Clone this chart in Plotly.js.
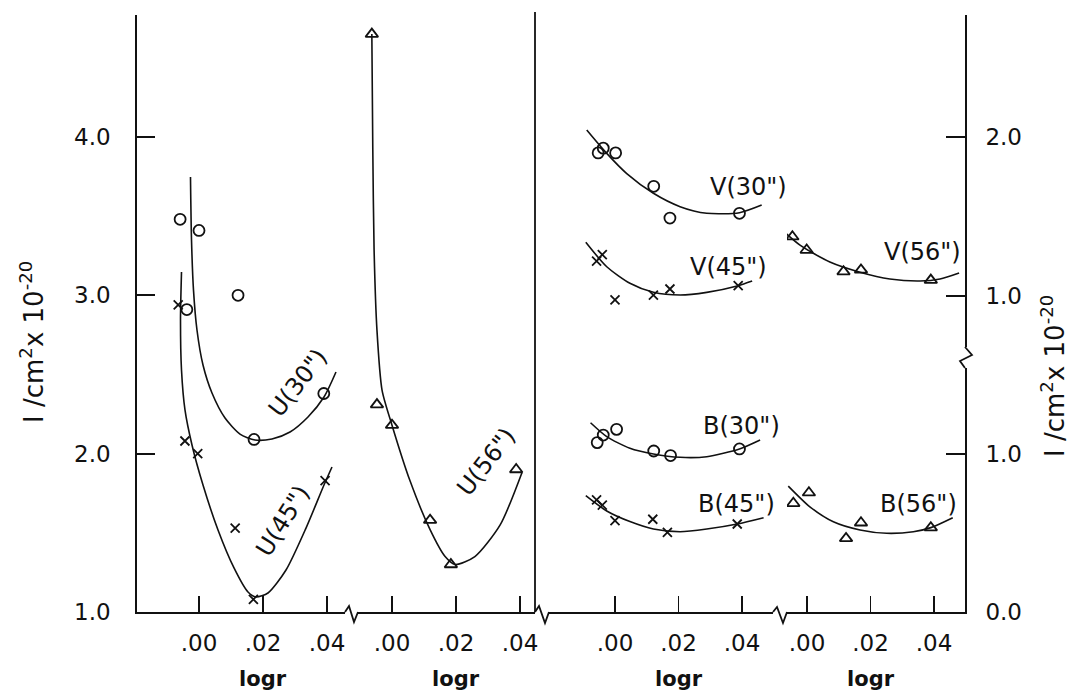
<!DOCTYPE html>
<html><head><meta charset="utf-8">
<script src="https://cdn.plot.ly/plotly-3.0.1.min.js"></script>
<style>html,body{margin:0;padding:0;background:#fff}#chart{width:1073px;height:691px}</style>
</head><body><div id="chart"></div>
<script>
// ---------- tick labels ----------
const xTickVals = [0, 0.02, 0.04];
const xTickText = ['.00', '.02', '.04'];
const uTickVals = [1, 2, 3, 4];
const uTickText = ['1.0', '2.0', '3.0', '4.0'];
const vTickVals = [1, 2];
const vTickText = ['1.0', '2.0'];
const bTickVals = [0, 1];
const bTickText = ['0.0', '1.0'];

// ---------- U panel (left scale) ----------
const u30X = [-0.0059, 0.0000, -0.0038, 0.0122, 0.0172, 0.0390];
const u30Y = [3.48, 3.41, 2.91, 3.00, 2.09, 2.38];
const u30CurveX = [-0.00266, -0.00234, -0.00172, -0.00063, 0.00125, 0.00406, 0.00813, 0.01281, 0.01750, 0.02281, 0.02844, 0.03406, 0.03906, 0.04281];
const u30CurveY = [3.747, 3.349, 3.033, 2.781, 2.560, 2.383, 2.225, 2.124, 2.086, 2.093, 2.137, 2.232, 2.358, 2.516];

const u45X = [-0.0065, -0.0044, -0.0004, 0.0113, 0.0170, 0.0394];
const u45Y = [2.94, 2.08, 2.00, 1.53, 1.08, 1.83];
const u45CurveX = [-0.00547, -0.00578, -0.00547, -0.00438, -0.00219, 0.00125, 0.00594, 0.01094, 0.01531, 0.01781, 0.02156, 0.02719, 0.03344, 0.03906, 0.04156];
const u45CurveY = [3.147, 2.844, 2.528, 2.276, 2.055, 1.802, 1.518, 1.278, 1.126, 1.095, 1.120, 1.265, 1.530, 1.802, 1.916];

const u56X = [-0.0063, -0.0047, 0.0000, 0.0119, 0.0184, 0.0388];
const u56Y = [4.65, 2.31, 2.18, 1.58, 1.30, 1.90];
const u56CurveX = [-0.0063, -0.0060, -0.0056, -0.0047, -0.0031, 0.0000, 0.0056, 0.0119, 0.0166, 0.0197, 0.0259, 0.0338, 0.0406];
const u56CurveY = [4.65, 3.92, 3.29, 2.78, 2.40, 2.18, 1.83, 1.52, 1.35, 1.30, 1.35, 1.55, 1.88];

// ---------- V panel (right upper scale) ----------
const v30X = [-0.0053, -0.0037, 0.0002, 0.0122, 0.0173, 0.0392];
const v30Y = [1.90, 1.93, 1.90, 1.69, 1.49, 1.52];
const v30CurveX = [-0.0089, -0.0026, 0.0037, 0.0121, 0.0205, 0.0289, 0.0392, 0.0462];
const v30CurveY = [2.044, 1.897, 1.770, 1.646, 1.562, 1.520, 1.524, 1.572];

const v45X = [-0.0058, -0.0040, 0.0000, 0.0121, 0.0173, 0.0388];
const v45Y = [1.22, 1.26, 0.975, 1.006, 1.044, 1.065];
const v45CurveX = [-0.0092, -0.0026, 0.0047, 0.0121, 0.0205, 0.0289, 0.0388, 0.0432];
const v45CurveY = [1.338, 1.184, 1.080, 1.023, 1.006, 1.023, 1.065, 1.094];

const v56X = [-0.0046, -0.0001, 0.0115, 0.0170, 0.0390];
const v56Y = [1.373, 1.289, 1.153, 1.164, 1.100];
const v56CurveX = [-0.0096, -0.0022, 0.0072, 0.0167, 0.0261, 0.0356, 0.0419, 0.0479];
const v56CurveY = [1.447, 1.320, 1.214, 1.150, 1.107, 1.094, 1.107, 1.145];

// ---------- B panel (right lower scale) ----------
const b30X = [-0.0056, -0.0037, 0.0005, 0.0122, 0.0175, 0.0392];
const b30Y = [1.072, 1.120, 1.156, 1.019, 0.990, 1.032];
const b30CurveX = [-0.0077, -0.0026, 0.0047, 0.0121, 0.0205, 0.0289, 0.0392, 0.0457];
const b30CurveY = [1.198, 1.110, 1.036, 1.000, 0.979, 0.983, 1.032, 1.089];

const b45X = [-0.0058, -0.0040, 0.0000, 0.0119, 0.0165, 0.0385];
const b45Y = [0.709, 0.677, 0.578, 0.587, 0.504, 0.557];
const b45CurveX = [-0.0092, -0.0026, 0.0047, 0.0121, 0.0205, 0.0289, 0.0385, 0.0468];
const b45CurveY = [0.736, 0.639, 0.572, 0.525, 0.508, 0.525, 0.557, 0.597];

const b56X = [-0.0043, 0.0006, 0.0123, 0.0170, 0.0390];
const b56Y = [0.688, 0.755, 0.466, 0.565, 0.534];
const b56CurveX = [-0.0059, 0.0009, 0.0083, 0.0167, 0.0251, 0.0335, 0.0390, 0.0459];
const b56CurveY = [0.797, 0.666, 0.571, 0.519, 0.498, 0.508, 0.534, 0.597];

// ---------- helpers ----------
const INK = '#111';
const FONT = 'DejaVu Sans, sans-serif';
function pts(x, y, xa, ya, sym) {
  return {x: x, y: y, xaxis: xa, yaxis: ya, type: 'scatter', mode: 'markers', hoverinfo: 'skip',
    marker: {symbol: sym, size: sym.indexOf('x') === 0 ? 9 : 11, color: INK, line: {color: INK, width: 1.8}}};
}
function curve(x, y, xa, ya) {
  return {x: x, y: y, xaxis: xa, yaxis: ya, type: 'scatter', mode: 'lines', hoverinfo: 'skip',
    line: {color: INK, width: 1.6, shape: 'spline', smoothing: 0.7}};
}
const O = 'circle-open', X = 'x-thin-open', T = 'triangle-up-open';
const data = [
  curve(u30CurveX, u30CurveY, 'x', 'y'), pts(u30X, u30Y, 'x', 'y', O),
  curve(u45CurveX, u45CurveY, 'x', 'y'), pts(u45X, u45Y, 'x', 'y', X),
  curve(u56CurveX, u56CurveY, 'x2', 'y'), pts(u56X, u56Y, 'x2', 'y', T),
  curve(v30CurveX, v30CurveY, 'x3', 'y2'), pts(v30X, v30Y, 'x3', 'y2', O),
  curve(v45CurveX, v45CurveY, 'x3', 'y2'), pts(v45X, v45Y, 'x3', 'y2', X),
  curve(v56CurveX, v56CurveY, 'x4', 'y2'), pts(v56X, v56Y, 'x4', 'y2', T),
  curve(b30CurveX, b30CurveY, 'x3', 'y3'), pts(b30X, b30Y, 'x3', 'y3', O),
  curve(b45CurveX, b45CurveY, 'x3', 'y3'), pts(b45X, b45Y, 'x3', 'y3', X),
  curve(b56CurveX, b56CurveY, 'x4', 'y3'), pts(b56X, b56Y, 'x4', 'y3', T)
];

// plot area in pixels: left 137, right 965, top 15, bottom 612
const L = 137, R = 965, TOP = 15, BOT = 612;
const px = v => (v - L) / (R - L);
const py = v => (BOT - v) / (BOT - TOP);
const TICKFONT = {family: FONT, size: 23, color: INK};

function xAxis(dom, rng, anchor) {
  return {domain: [px(dom[0]), px(dom[1])], range: rng, anchor: anchor,
    tickvals: xTickVals, ticktext: xTickText, ticks: 'inside', ticklen: 16, tickwidth: 1.8, tickcolor: INK,
    showline: true, linecolor: INK, linewidth: 1.8, showgrid: false, zeroline: false,
    ticklabelstandoff: 10, tickfont: TICKFONT, fixedrange: true};
}
const BREAK = 357;
const layout = {
  width: 1073, height: 691, showlegend: false,
  paper_bgcolor: '#fff', plot_bgcolor: '#fff',
  margin: {l: L, r: 1073 - R, t: TOP, b: 691 - BOT, pad: 0},
  font: {family: FONT, color: INK},
  xaxis: xAxis([137, 345], [-0.019375, 0.045625], 'y'),
  xaxis2: xAxis([358, 535], [-0.010625, 0.0446875], 'y'),
  xaxis3: xAxis([549, 773], [-0.020787, 0.049764], 'y3'),
  xaxis4: xAxis([787, 965], [-0.0063, 0.049764], 'y3'),
  yaxis: {domain: [0, 1], range: [1, 1 + (BOT - TOP) / 158.33], anchor: 'x', side: 'left',
    tickvals: uTickVals, ticktext: uTickText, ticks: 'inside', ticklen: 18, tickwidth: 1.8, tickcolor: INK,
    showline: true, linecolor: INK, linewidth: 1.8, showgrid: false, zeroline: false,
    ticklabelstandoff: 20, tickfont: TICKFONT, fixedrange: true},
  yaxis2: {domain: [py(BREAK), 1], range: [1 - (BREAK - 296) / 159, 1 + (296 - TOP) / 159], anchor: 'x4', side: 'right',
    tickvals: vTickVals, ticktext: vTickText, ticks: 'inside', ticklen: 19, tickwidth: 1.8, tickcolor: INK,
    showline: true, linecolor: INK, linewidth: 1.8, showgrid: false, zeroline: false,
    ticklabelstandoff: 14, tickfont: TICKFONT, fixedrange: true},
  yaxis3: {domain: [0, py(BREAK)], range: [0, (BOT - BREAK) / 158], anchor: 'x4', side: 'right',
    tickvals: bTickVals, ticktext: bTickText, ticks: 'inside', ticklen: 19, tickwidth: 1.8, tickcolor: INK,
    showline: true, linecolor: INK, linewidth: 1.8, showgrid: false, zeroline: false,
    ticklabelstandoff: 14, tickfont: TICKFONT, fixedrange: true},
  shapes: [],
  annotations: []
};

function pathPx(list) {
  return list.map((p, i) => (i ? 'L' : 'M') + px(p[0]).toFixed(5) + ',' + py(p[1]).toFixed(5)).join(' ');
}
const lineStyle = {color: INK, width: 1.8};
// axis-break zigzags along the bottom
[[[345, 612], [349, 606], [354, 622], [358, 612]],
 [[535, 612], [539, 606], [545, 623], [549, 612]],
 [[773, 612], [777, 607], [783, 623], [787, 612]]].forEach(z => {
  layout.shapes.push({type: 'path', xref: 'paper', yref: 'paper', path: pathPx(z), line: lineStyle, layer: 'above'});
});
// separator line between U and V/B panels
layout.shapes.push({type: 'line', xref: 'paper', yref: 'paper', x0: px(535), x1: px(535), y0: 0, y1: py(12), line: lineStyle, layer: 'above'});
// right axis break
layout.shapes.push({type: 'rect', xref: 'paper', yref: 'paper', x0: px(961), x1: px(969), y0: py(368), y1: py(347), line: {width: 0}, fillcolor: '#fff', layer: 'above'});
layout.shapes.push({type: 'path', xref: 'paper', yref: 'paper', path: pathPx([[965, 347], [972, 355], [960, 361], [965, 368]]), line: lineStyle, layer: 'above'});

// curve labels
function lab(text, x, y, xa, ya, ang) {
  layout.annotations.push({text: text, x: x, y: y, xref: xa, yref: ya, showarrow: false, textangle: ang,
    font: {family: FONT, size: 24, color: INK}, xanchor: 'center', yanchor: 'middle'});
}
lab('U(30")', 0.0309, 2.447, 'x', 'y', -52);
lab('U(45")', 0.0262, 1.575, 'x', 'y', -58);
lab('U(56")', 0.0294, 1.95, 'x2', 'y', -52);
lab('V(30")', 0.0419, 1.686, 'x3', 'y2', 0);
lab('V(45")', 0.0359, 1.182, 'x3', 'y2', 0);
lab('V(56")', 0.0365, 1.277, 'x4', 'y2', 0);
lab('B(30")', 0.0397, 1.177, 'x3', 'y3', 0);
lab('B(45")', 0.0384, 0.684, 'x3', 'y3', 0);
lab('B(56")', 0.0350, 0.684, 'x4', 'y3', 0);

// x-axis titles
[['x', 0.02], ['x2', 0.02], ['x3', 0.02], ['x4', 0.02]].forEach(a => {
  layout.annotations.push({text: '<b>logr</b>', x: a[1], xref: a[0], y: py(679), yref: 'paper', showarrow: false,
    font: {family: FONT, size: 21, color: INK}, xanchor: 'center', yanchor: 'middle'});
});
// y-axis titles
const yTitle = 'I /cm<sup>2</sup>x 10<sup>-20</sup>';
layout.annotations.push({text: yTitle, x: px(32), y: py(342), xref: 'paper', yref: 'paper', showarrow: false, textangle: -90,
  font: {family: FONT, size: 26, color: INK}, xanchor: 'center', yanchor: 'middle'});
layout.annotations.push({text: yTitle, x: px(1053), y: py(376), xref: 'paper', yref: 'paper', showarrow: false, textangle: -90,
  font: {family: FONT, size: 26, color: INK}, xanchor: 'center', yanchor: 'middle'});

Plotly.newPlot('chart', data, layout, {staticPlot: true, displayModeBar: false});
</script></body></html>
